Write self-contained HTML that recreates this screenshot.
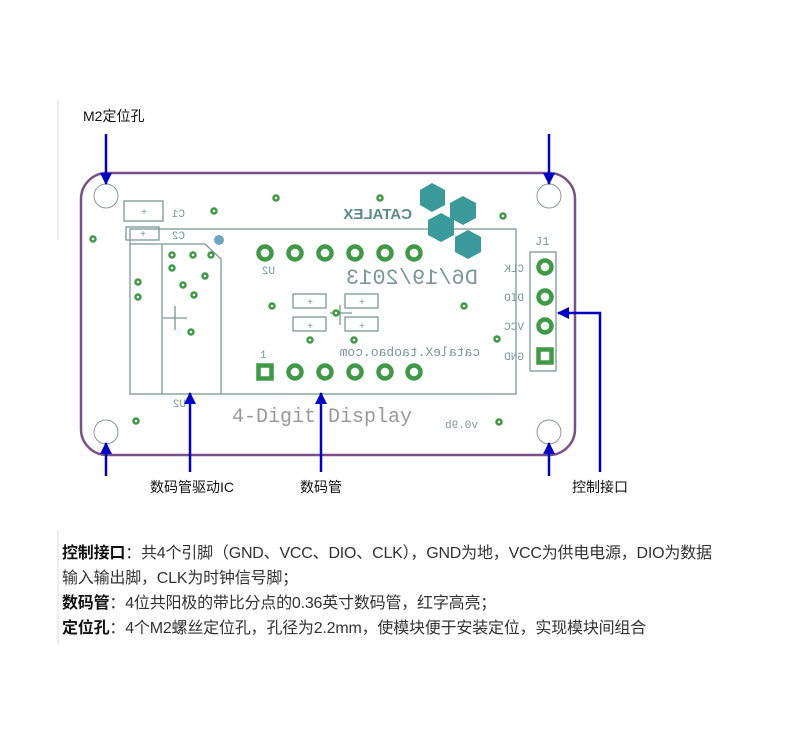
<!DOCTYPE html>
<html><head><meta charset="utf-8"><style>
body{margin:0;width:800px;height:750px;background:#fff;overflow:hidden;font-family:"Liberation Sans","Noto Sans CJK SC",sans-serif}
.t{position:absolute;left:62px;font-size:16px;line-height:20px;color:#333;white-space:nowrap;letter-spacing:-0.2px}
.t b{color:#111}
</style></head><body>
<svg width="800" height="750" style="position:absolute;left:0;top:0" font-family="Liberation Sans, Noto Sans CJK SC, sans-serif">
<defs>
<marker id="ah" markerWidth="12" markerHeight="12" refX="11" refY="6" orient="auto" markerUnits="userSpaceOnUse"><path d="M0,0 L12,6 L0,12z" fill="#0000c8"/></marker>
</defs>
<line x1="58" y1="100" x2="58" y2="240" stroke="#ddd"/>
<line x1="58" y1="530" x2="58" y2="645" stroke="#ddd"/>
<rect x="81" y="173" width="494" height="282" rx="26" fill="#fff" stroke="#7a4f8a" stroke-width="2.5"/>
<g fill="#fff" stroke="#8a9a9a" stroke-width="1">
<circle cx="106" cy="196" r="12"/><circle cx="549" cy="196" r="12"/>
<circle cx="106" cy="432" r="12"/><circle cx="549" cy="432" r="12"/>
</g>
<g fill="none" stroke="#7a9898" stroke-width="1.3">
<rect x="130" y="229" width="386" height="165"/>
<path d="M130,244 H205 L221,259 V394"/>
<line x1="162" y1="244" x2="162" y2="394"/>
<rect x="124" y="201" width="39" height="20"/>
<rect x="126" y="227" width="33" height="13"/>
<rect x="293" y="294" width="33" height="14"/><rect x="293" y="317" width="33" height="14"/>
<rect x="345" y="294" width="33" height="14"/><rect x="345" y="317" width="33" height="14"/>
<rect x="530" y="252" width="26" height="119"/>
<line x1="163" y1="318" x2="187" y2="318"/><line x1="175" y1="306" x2="175" y2="330"/>
<line x1="330" y1="313" x2="352" y2="313"/><line x1="340" y1="305" x2="340" y2="325"/>
</g>
<g font-size="10" fill="#7a9898" text-anchor="middle">
<text x="144" y="215">+</text><text x="143" y="237">+</text>
<text x="310" y="305">+</text><text x="310" y="329">+</text><text x="362" y="305">+</text><text x="362" y="329">+</text>
</g>
<g fill="#3a9a9a">
<polygon points="420,190 432,183 445,190 445,205 432,212 420,205"/>
<polygon points="450,203 463,196 476,203 476,218 463,225 450,218"/>
<polygon points="428,220 441,213 454,220 454,235 441,242 428,235"/>
<polygon points="455,237 468,230 481,237 481,252 468,259 455,252"/>
</g>
<circle cx="219" cy="240" r="5" fill="#6aa8c0"/>
<g fill="#7a9898" font-family="Liberation Mono, monospace">
<text transform="translate(412,219) scale(-1,1)" font-size="15" font-weight="bold" font-family="Liberation Sans" fill="#5a8a8a">CATALEX</text>
<text transform="translate(478,284) scale(-1,1)" font-size="22">D6/19/2013</text>
<text transform="translate(480,356) scale(-1,1)" font-size="13">cataleX.taobao.com</text>
<text x="232" y="422" font-size="20" fill="#999">4-Digit Display</text>
<text transform="translate(478,428) scale(-1,1)" font-size="11">v0.9b</text>
<text transform="translate(524,272) scale(-1,1)" font-size="11">CLK</text>
<text transform="translate(524,301) scale(-1,1)" font-size="11">DIO</text>
<text transform="translate(524,330) scale(-1,1)" font-size="11">VCC</text>
<text transform="translate(524,360) scale(-1,1)" font-size="11">GND</text>
<text transform="translate(185,217) scale(-1,1)" font-size="11">C1</text>
<text transform="translate(185,239) scale(-1,1)" font-size="11">C2</text>
<text transform="translate(186,407) scale(-1,1)" font-size="11">U2</text>
<text transform="translate(275,274) scale(-1,1)" font-size="11">U2</text>
<text x="535" y="245" font-size="12">J1</text>
<text x="260" y="358" font-size="11">1</text>
</g>
<g fill="#fff" stroke="#3f9a45" stroke-width="4.5">
<circle cx="265" cy="253" r="6.5"/><circle cx="295" cy="253" r="6.5"/><circle cx="325" cy="253" r="6.5"/><circle cx="355" cy="253" r="6.5"/><circle cx="385" cy="253" r="6.5"/><circle cx="414" cy="253" r="6.5"/>
<rect x="258.5" y="365.5" width="13" height="13"/><circle cx="295" cy="372" r="6.5"/><circle cx="325" cy="372" r="6.5"/><circle cx="355" cy="372" r="6.5"/><circle cx="385" cy="372" r="6.5"/><circle cx="414" cy="372" r="6.5"/>
<circle cx="545" cy="267" r="6.5"/><circle cx="545" cy="297" r="6.5"/><circle cx="545" cy="326" r="6.5"/><rect x="538.5" y="349.5" width="13" height="13"/>
</g>
<g fill="#fff" stroke="#3f9a45" stroke-width="2.5">
<circle cx="276" cy="198" r="2.5"/><circle cx="380" cy="198" r="2.5"/><circle cx="214" cy="211" r="2.5"/><circle cx="503" cy="216" r="2.5"/>
<circle cx="93" cy="239" r="2.5"/><circle cx="172" cy="255" r="2.5"/><circle cx="193" cy="255" r="2.5"/><circle cx="211" cy="255" r="2.5"/>
<circle cx="172" cy="268" r="2.5"/><circle cx="205" cy="276" r="2.5"/><circle cx="138" cy="282" r="2.5"/><circle cx="138" cy="297" r="2.5"/>
<circle cx="183" cy="285" r="2.5"/><circle cx="194" cy="295" r="2.5"/><circle cx="191" cy="332" r="2.5"/><circle cx="272" cy="306" r="2.5"/>
<circle cx="336" cy="313" r="2.5"/><circle cx="310" cy="340" r="2.5"/><circle cx="354" cy="340" r="2.5"/><circle cx="464" cy="306" r="2.5"/>
<circle cx="497" cy="339" r="2.5"/><circle cx="136" cy="421" r="2.5"/><circle cx="499" cy="422" r="2.5"/>
</g>
<g stroke="#0000c8" stroke-width="2.5" fill="none">
<line x1="106" y1="134" x2="106" y2="184" marker-end="url(#ah)"/>
<line x1="549" y1="134" x2="549" y2="184" marker-end="url(#ah)"/>
<line x1="106" y1="476" x2="106" y2="443" marker-end="url(#ah)"/>
<line x1="549" y1="476" x2="549" y2="443" marker-end="url(#ah)"/>
<line x1="190" y1="472" x2="190" y2="393" marker-end="url(#ah)"/>
<line x1="321" y1="472" x2="321" y2="393" marker-end="url(#ah)"/>
<polyline points="600,472 600,313 558,313" marker-end="url(#ah)"/>
</g>
<g font-size="14" fill="#111">
<text x="83" y="121">M2定位孔</text>
<text x="150" y="492">数码管驱动IC</text>
<text x="300" y="492">数码管</text>
<text x="572" y="492">控制接口</text>
</g>
</svg>
<div class="t" style="top:544px"><b>控制接口</b>：共4个引脚（GND、VCC、DIO、CLK），GND为地，VCC为供电电源，DIO为数据</div>
<div class="t" style="top:569px">输入输出脚，CLK为时钟信号脚；</div>
<div class="t" style="top:594px"><b>数码管</b>：4位共阳极的带比分点的0.36英寸数码管，红字高亮；</div>
<div class="t" style="top:619px"><b>定位孔</b>：4个M2螺丝定位孔，孔径为2.2mm，使模块便于安装定位，实现模块间组合</div>
</body></html>
